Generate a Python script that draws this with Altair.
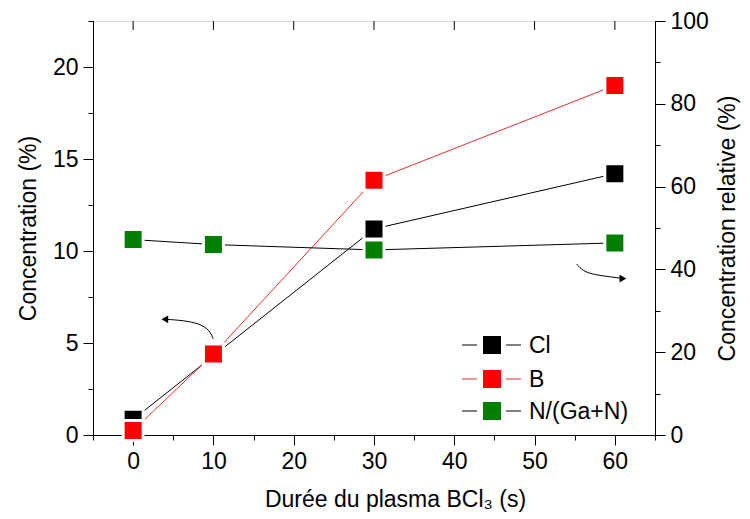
import altair as alt
import pandas as pd

# ---- data ----
time_s = [0, 10, 30, 60]
cl_conc = [0.85, 4.3, 11.2, 14.2]
b_conc = [0.25, 4.4, 13.85, 19.0]
n_rel = [47.2, 46.0, 44.7, 46.4]
series_names = ["Cl", "B", "N/(Ga+N)"]
series_colors = ["#000000", "#ff0000", "#007f00"]
line_colors = ["#000000", "#e03030", "#000000"]

x_major = [0, 10, 20, 30, 40, 50, 60]
x_minor = [-5, 5, 15, 25, 35, 45, 55, 65]
yl_major = [0, 5, 10, 15, 20]
yl_minor = [2.5, 7.5, 12.5, 17.5, 22.5]
yr_major = [0, 20, 40, 60, 80, 100]
yr_minor = [10, 30, 50, 70, 90]

# annotation arrows (data units of the left axis)
arrow_left_x = [9.96, 9.55, 8.3, 6.23, 3.95]
arrow_left_y = [5.23, 5.69, 6.05, 6.23, 6.29]
arrow_right_x = [55.25, 56.0, 57.5, 59.6, 61.0]
arrow_right_y = [9.29, 8.91, 8.70, 8.59, 8.5]

FONT = "Liberation Sans"
W, H = 562, 414

df_cl = pd.DataFrame({"t": time_s, "v": cl_conc})
df_b = pd.DataFrame({"t": time_s, "v": b_conc})
df_n = pd.DataFrame({"t": time_s, "v": n_rel})

xs = alt.Scale(domain=[-5, 65], nice=False, zero=False)
yls = alt.Scale(domain=[0, 22.5], nice=False, zero=False)
yrs = alt.Scale(domain=[0, 100], nice=False, zero=False)

common_axis = dict(grid=False, domainColor="black", tickColor="black", labelColor="black",
                   titleColor="black", labelFont=FONT, titleFont=FONT, labelFontSize=23,
                   titleFontSize=23, titleFontWeight="normal", domainWidth=1, tickWidth=1)
no_title = {k: v for k, v in common_axis.items() if not k.startswith("title")}

x_axis_main = alt.Axis(values=x_major, tickSize=10, labelPadding=5, orient="bottom",
                       title="Durée du plasma BCl\u2083 (s)", titleX=302, titleY=64,
                       titleBaseline="middle", titleAlign="center", **common_axis)
x_axis_minor = alt.Axis(values=x_minor, tickSize=5, labels=False, title=None, orient="bottom",
                        **no_title)
yl_axis_main = alt.Axis(values=yl_major, tickSize=10, labelPadding=5, orient="left",
                        title="Concentration (%)", titleX=-65, titleY=H / 2, titleAngle=270,
                        titleBaseline="middle", titleAlign="center", **common_axis)
yl_axis_minor = alt.Axis(values=yl_minor, tickSize=5, labels=False, title=None, orient="left",
                         **no_title)
yr_axis_main = alt.Axis(values=yr_major, tickSize=10, labelPadding=5, orient="right",
                        title="Concentration relative (%)", titleX=72, titleY=H / 2,
                        titleAngle=270, titleBaseline="middle", titleAlign="center",
                        **common_axis)
yr_axis_minor = alt.Axis(values=yr_minor, tickSize=5, labels=False, title=None, orient="right",
                         **no_title)

PT_SIZE = 400
PT_STROKE = 3

# lines
cl_line = alt.Chart(df_cl).mark_line(color=line_colors[0], strokeWidth=1).encode(
    x=alt.X("t:Q", scale=xs, axis=x_axis_main), y=alt.Y("v:Q", scale=yls, axis=yl_axis_main))
b_line = alt.Chart(df_b).mark_line(color=line_colors[1], strokeWidth=1).encode(
    x=alt.X("t:Q", scale=xs, axis=None), y=alt.Y("v:Q", scale=yls, axis=None))

# minor axes
xminor_layer = alt.Chart(pd.DataFrame({"t": x_minor})).mark_point(opacity=0).encode(
    x=alt.X("t:Q", scale=xs, axis=x_axis_minor))
ylminor_layer = alt.Chart(pd.DataFrame({"v": yl_minor})).mark_point(opacity=0).encode(
    y=alt.Y("v:Q", scale=yls, axis=yl_axis_minor))
top_ticks = alt.Chart(pd.DataFrame({"t": x_major})).mark_rule(color="black", strokeWidth=1).encode(
    x=alt.X("t:Q", scale=xs, axis=None), y=alt.value(0), y2=alt.value(9))

# points
def pts(df, color, scale):
    return alt.Chart(df).mark_point(shape="square", filled=True, size=PT_SIZE, fill=color,
                                    stroke="white", strokeWidth=PT_STROKE, opacity=1,
                                    strokeOpacity=1, fillOpacity=1).encode(
        x=alt.X("t:Q", scale=xs, axis=None), y=alt.Y("v:Q", scale=scale, axis=None))

cl_pts = pts(df_cl, series_colors[0], yls)
b_pts = pts(df_b, series_colors[1], yls)

# arrows
df_al = pd.DataFrame({"x": arrow_left_x, "y": arrow_left_y, "o": range(len(arrow_left_x))})
df_ar = pd.DataFrame({"x": arrow_right_x, "y": arrow_right_y, "o": range(len(arrow_right_x))})
arr_l = alt.Chart(df_al).mark_line(color="black", strokeWidth=1, interpolate="basis").encode(
    x=alt.X("x:Q", scale=xs, axis=None), y=alt.Y("y:Q", scale=yls, axis=None), order="o:Q")
arr_r = alt.Chart(df_ar).mark_line(color="black", strokeWidth=1, interpolate="basis").encode(
    x=alt.X("x:Q", scale=xs, axis=None), y=alt.Y("y:Q", scale=yls, axis=None), order="o:Q")
head_l = alt.Chart(df_al.tail(1)).mark_point(shape="triangle-left", filled=True, size=60,
                                             color="black", opacity=1).encode(
    x=alt.X("x:Q", scale=xs, axis=None), y=alt.Y("y:Q", scale=yls, axis=None))
head_r = alt.Chart(df_ar.tail(1)).mark_point(shape="triangle-right", filled=True, size=60,
                                             color="black", opacity=1).encode(
    x=alt.X("x:Q", scale=xs, axis=None), y=alt.Y("y:Q", scale=yls, axis=None))

# legend (manual, pixel placed)
leg_rows_y = [324, 358, 390]
legend_layers = []
for name, fc, lc, yy in zip(series_names, series_colors, line_colors, leg_rows_y):
    d = pd.DataFrame({"s": [name]})
    legend_layers.append(alt.Chart(d).mark_rule(color=lc, strokeWidth=1).encode(
        x=alt.value(369), x2=alt.value(384), y=alt.value(yy)))
    legend_layers.append(alt.Chart(d).mark_rule(color=lc, strokeWidth=1).encode(
        x=alt.value(413), x2=alt.value(428), y=alt.value(yy)))
    legend_layers.append(alt.Chart(d).mark_point(shape="square", filled=True, size=324,
                                                 color=fc, opacity=1).encode(
        x=alt.value(399), y=alt.value(yy)))
    legend_layers.append(alt.Chart(d).mark_text(align="left", baseline="middle", font=FONT,
                                                fontSize=23, color="black").encode(
        x=alt.value(436), y=alt.value(yy + 1), text="s:N"))

# right axis group
n_line = alt.Chart(df_n).mark_line(color=line_colors[2], strokeWidth=1).encode(
    x=alt.X("t:Q", scale=xs, axis=None), y=alt.Y("v:Q", scale=yrs, axis=yr_axis_main))
yrminor_layer = alt.Chart(pd.DataFrame({"v": yr_minor})).mark_point(opacity=0).encode(
    y=alt.Y("v:Q", scale=yrs, axis=yr_axis_minor))
n_pts = pts(df_n, series_colors[2], yrs)

left_group = alt.layer(cl_line, b_line, xminor_layer, ylminor_layer, top_ticks,
                       arr_l, arr_r, head_l, head_r, cl_pts, b_pts).resolve_axis(
    x="independent", y="independent")
right_group = alt.layer(n_line, yrminor_layer, n_pts).resolve_axis(y="independent")
legend_group = alt.layer(*legend_layers)

chart = alt.layer(left_group, right_group, legend_group).resolve_scale(
    y="independent").resolve_axis(x="independent", y="independent").properties(
    width=W, height=H,
    autosize=alt.AutoSizeParams(type="none"),
    padding={"left": 85, "top": 13, "right": 87, "bottom": 78},
).configure_view(stroke="black", strokeWidth=1).configure(background="white")

chart.save("out.html", embed_options={"renderer": "svg", "actions": False})
